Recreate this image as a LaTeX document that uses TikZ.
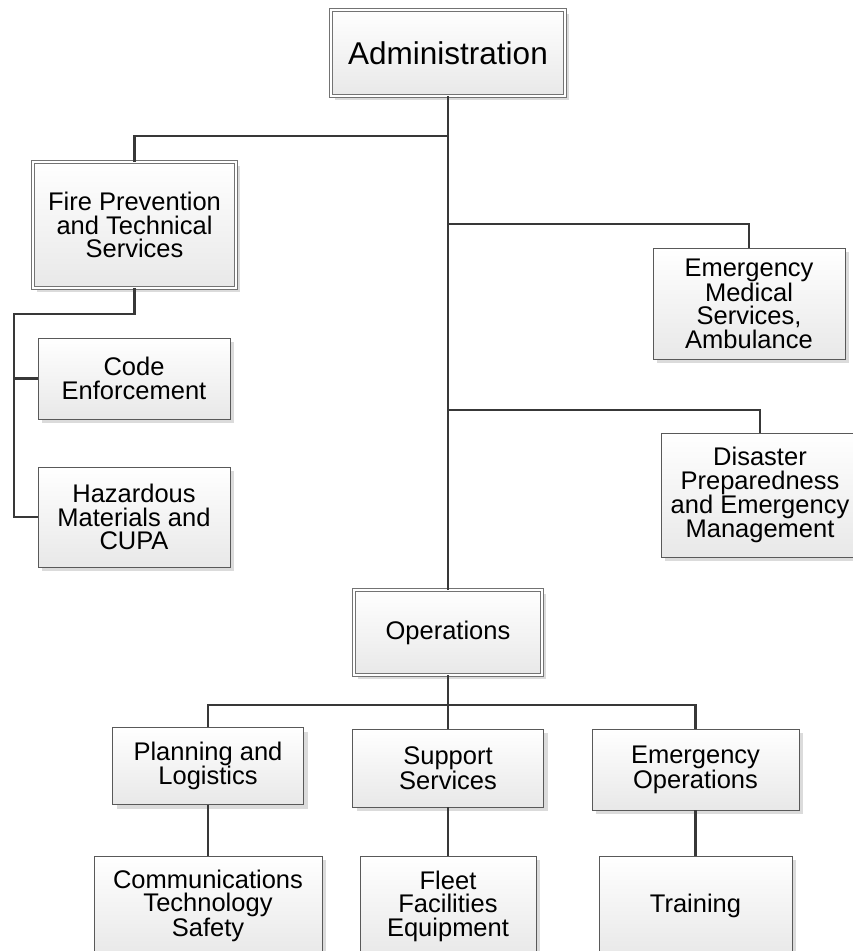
\documentclass[tikz,border=0pt]{standalone}
\usepackage{fontspec}
\setmainfont{Liberation Sans}
\usetikzlibrary{positioning}
\usetikzlibrary{shadows}
\usetikzlibrary{calc}

\begin{document}
\begin{tikzpicture}[x=1pt, y=-1pt,
	box/.style={rectangle, draw=black!65, line width=0.9pt, top color=white, bottom color=black!9,
		inner sep=0pt, align=center, font=\fontsize{25.5}{23.5}\selectfont,
		drop shadow={shadow xshift=4pt, shadow yshift=-4pt, fill=black!14, opacity=1}},
	dbox/.style={box, draw=black!55, double=white, double distance=2.4pt, line width=0.8pt},
	link/.style={draw=black!78, line width=2.8pt}]
\useasboundingbox (0,0) rectangle (853,951);
\clip (0,0) rectangle (853,951);

\node[dbox, minimum width=234pt, minimum height=86pt, font=\fontsize{31.5}{34}\selectfont] (admin) at (448,53) {Administration};
\node[dbox, minimum width=203pt, minimum height=126pt] (fp) at (134.5,225) {Fire Prevention\\and Technical\\Services};
\node[box, minimum width=192pt, minimum height=81pt] (code) at (134,378.5) {Code\\Enforcement};
\node[box, minimum width=192pt, minimum height=100pt] (haz) at (134,517) {Hazardous\\Materials and\\CUPA};
\node[box, minimum width=192pt, minimum height=111pt] (ems) at (749,303.5) {Emergency\\Medical\\Services,\\Ambulance};
\node[box, minimum width=198pt, minimum height=124pt] (dis) at (760,495) {Disaster\\Preparedness\\and Emergency\\Management};
\node[dbox, minimum width=188pt, minimum height=85pt] (ops) at (448,632.5) {Operations};
\node[box, minimum width=191pt, minimum height=77pt] (plan) at (208,766) {Planning and\\Logistics};
\node[box, minimum width=191pt, minimum height=78pt] (supp) at (448,768) {Support\\Services};
\node[box, minimum width=207pt, minimum height=81pt] (eops) at (695.5,769.5) {Emergency\\Operations};
\node[box, minimum width=228pt, minimum height=100pt] (comm) at (208,906) {Communications\\Technology\\Safety};
\node[box, minimum width=176pt, minimum height=100pt] (fleet) at (448,906) {Fleet\\Facilities\\Equipment};
\node[box, minimum width=193pt, minimum height=100pt] (train) at (695.5,906) {Training};

\coordinate (jfp) at (448,136);
\coordinate (jems) at (448,224);
\coordinate (jdis) at (448,410);
\coordinate (kfp) at (14,314);
\coordinate (bus) at (448,705);

\draw[link] (admin) -- (ops);
\draw[link] (fp.north) |- (jfp);
\draw[link] (jems) -| (ems.north);
\draw[link] (jdis) -| (dis.north);
\draw[link] (fp.south) |- (kfp) |- (haz.west);
\draw[link] (kfp |- code.west) -- (code.west);
\draw[link] (ops) -- (bus);
\draw[link] (plan.north) |- (bus) -| (eops.north);
\draw[link] (bus) -- (supp.north);
\draw[link] (plan) -- (comm);
\draw[link] (supp) -- (fleet);
\draw[link] (eops) -- (train);
\end{tikzpicture}
\end{document}
